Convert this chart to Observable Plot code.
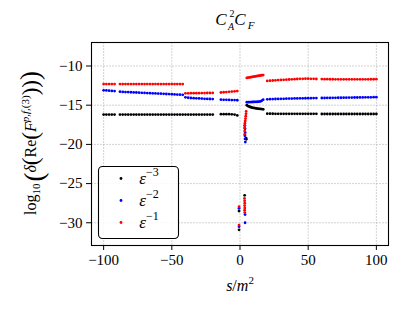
<!DOCTYPE html>
<html>
<head>
<meta charset="utf-8">
<script src="https://cdn.jsdelivr.net/npm/d3@7"></script>
<script src="https://cdn.jsdelivr.net/npm/@observablehq/plot@0.6"></script>
<style>
  html, body { margin: 0; padding: 0; background: white; }
  #chart svg { display: block; }
</style>
</head>
<body>
<div id="chart"></div>
<script>
// ---- data ----
const xTicks = [-100, -50, 0, 50, 100];
const yTicks = [-30, -25, -20, -15, -10];
const seriesNames = ["ε^-3", "ε^-2", "ε^-1"];
const seriesColors = ["black", "blue", "red"];

// left branch s/m^2 values
const sLeft = [-100,-98,-96,-94,-92,-88,-86,-84,-82,-80,-78,-76,-74,-72,-70,-68,-66,-64,-62,-60,-58,-56,-54,-52,-50,-48,-46,-44,-42,
               -40,-38,-36,-34,-32,-30,-28,-26,-24,-22,-20,
               -14,-12,-10,-8,-6,-4,-2];
const e3Left = [-16.2,-16.2,-16.2,-16.2,-16.2,-16.2,-16.2,-16.2,-16.2,-16.2,-16.2,-16.2,-16.2,-16.2,-16.2,-16.2,-16.2,-16.2,-16.2,-16.2,-16.2,-16.2,-16.2,-16.2,-16.2,-16.2,-16.2,-16.2,-16.2,
                -16.2,-16.2,-16.2,-16.2,-16.2,-16.2,-16.2,-16.2,-16.2,-16.2,-16.2,
                -16.15,-16.15,-16.15,-16.15,-16.16,-16.2,-16.3];
const e2Left = [-13.1,-13.12,-13.15,-13.18,-13.2,-13.28,-13.3,-13.32,-13.33,-13.35,-13.37,-13.38,-13.4,-13.42,-13.43,-13.45,-13.47,-13.48,-13.5,-13.52,-13.53,-13.55,-13.57,-13.58,-13.6,-13.62,-13.64,-13.66,-13.68,
                -14.0,-14.05,-14.08,-14.1,-14.12,-14.14,-14.16,-14.18,-14.2,-14.21,-14.22,
                -14.3,-14.31,-14.32,-14.33,-14.34,-14.35,-14.37];
const e1Left = [-12.3,-12.3,-12.3,-12.3,-12.3,-12.3,-12.3,-12.3,-12.3,-12.3,-12.3,-12.3,-12.3,-12.3,-12.3,-12.3,-12.3,-12.3,-12.3,-12.3,-12.3,-12.3,-12.3,-12.3,-12.3,-12.3,-12.3,-12.3,-12.3,
                -13.48,-13.48,-13.47,-13.47,-13.46,-13.46,-13.45,-13.45,-13.44,-13.44,-13.43,
                -13.38,-13.35,-13.32,-13.29,-13.26,-13.23,-13.2];

// small branch just right of zero
const sNear = [5,6,7,8,9,10,11,12,13,14,15,16,17];
const e3Near = [-15.0,-15.12,-15.2,-15.26,-15.31,-15.35,-15.38,-15.41,-15.44,-15.46,-15.48,-15.5,-15.52];
const e2Near = [-14.62,-14.61,-14.6,-14.6,-14.59,-14.58,-14.58,-14.57,-14.56,-14.55,-14.52,-14.42,-14.3];
const e1Near = [-11.52,-11.48,-11.45,-11.42,-11.39,-11.36,-11.33,-11.3,-11.27,-11.24,-11.21,-11.18,-11.15];

// right branch
const sRight = [20,22,24,26,28,30,32,34,36,38,40,42,44,46,48,50,52,54,56,
                60,62,64,66,68,70,72,74,76,78,80,82,84,86,88,90,92,94,96,98,100];
const e3Right = [-16.08,-16.08,-16.09,-16.1,-16.1,-16.1,-16.1,-16.1,-16.1,-16.1,-16.1,-16.1,-16.1,-16.1,-16.1,-16.1,-16.1,-16.1,-16.1,
                 -16.12,-16.12,-16.12,-16.12,-16.12,-16.12,-16.12,-16.12,-16.12,-16.12,-16.12,-16.12,-16.12,-16.12,-16.12,-16.12,-16.12,-16.12,-16.12,-16.12,-16.12];
const e2Right = [-14.25,-14.23,-14.22,-14.21,-14.2,-14.19,-14.18,-14.17,-14.16,-14.15,-14.14,-14.13,-14.12,-14.12,-14.11,-14.1,-14.1,-14.09,-14.09,
                 -14.08,-14.08,-14.07,-14.07,-14.06,-14.06,-14.05,-14.05,-14.04,-14.04,-14.03,-14.03,-14.02,-14.02,-14.01,-14.01,-14.0,-14.0,-13.99,-13.98,-13.97];
const e1Right = [-11.9,-11.88,-11.85,-11.83,-11.8,-11.78,-11.76,-11.74,-11.72,-11.7,-11.68,-11.66,-11.64,-11.63,-11.62,-11.62,-11.63,-11.64,-11.66,
                 -11.67,-11.68,-11.68,-11.69,-11.69,-11.7,-11.7,-11.7,-11.7,-11.7,-11.7,-11.7,-11.7,-11.7,-11.7,-11.7,-11.7,-11.7,-11.69,-11.69,-11.68];

// scattered points around s = 0
const sSpike3 = [4.5, 4.6, 3.4, -0.7, -0.7];
const vSpike3 = [-19.2, -19.35, -26.5, -28.5, -30.9];
const sSpike2 = [3.6, 3.7, 3.8, 3.6, 3.7, 3.9, -0.7, 3.7, 3.7, -0.7];
const vSpike2 = [-17.6, -18.0, -18.5, -18.9, -19.3, -19.7, -28.15, -28.95, -30.0, -30.5];
const sSpike1 = [4.5, 4.4, 4.2, 4.0, 3.8, 3.6, 3.4, 3.3, 3.4, 3.5, -0.7, 3.3, 3.4, 3.5, 3.4, 3.5, 3.4, 3.5, -0.7];
const vSpike1 = [-15.8, -16.1, -16.4, -16.7, -17.0, -17.3, -17.6, -17.9, -18.3, -18.7, -27.95, -26.9, -27.2, -27.5, -27.8, -28.1, -28.4, -28.7, -30.3];

// ---- build rows ----
function rows(sArr, vArr, k) { return sArr.map((s, i) => ({s, v: vArr[i], k})); }
const data = [
  ...rows(sLeft, e3Left, 0), ...rows(sNear, e3Near, 0), ...rows(sRight, e3Right, 0), ...rows(sSpike3, vSpike3, 0),
  ...rows(sLeft, e2Left, 1), ...rows(sNear, e2Near, 1), ...rows(sRight, e2Right, 1), ...rows(sSpike2, vSpike2, 1),
  ...rows(sLeft, e1Left, 2), ...rows(sNear, e1Near, 2), ...rows(sRight, e1Right, 2), ...rows(sSpike1, vSpike1, 2)
];

const serif = "'Liberation Serif', 'DejaVu Serif', serif";

const chart = Plot.plot({
  width: 410,
  height: 313,
  marginLeft: 91,
  marginRight: 22,
  marginTop: 42,
  marginBottom: 68,
  style: { fontFamily: serif, fontSize: "15px", color: "black", background: "white" },
  x: { domain: [-108.9, 108.9] },
  y: { domain: [-32.9, -7.0] },
  marks: [
    Plot.gridX(xTicks, { stroke: "#b0b0b0", strokeOpacity: 0.7, strokeWidth: 0.8, strokeDasharray: "2,1" }),
    Plot.gridY(yTicks, { stroke: "#b0b0b0", strokeOpacity: 0.7, strokeWidth: 0.8, strokeDasharray: "2,1" }),
    Plot.dot(data.filter(d => d.k === 0), { x: "s", y: "v", r: 1.4, fill: seriesColors[0], stroke: null }),
    Plot.dot(data.filter(d => d.k === 1), { x: "s", y: "v", r: 1.4, fill: seriesColors[1], stroke: null }),
    Plot.dot(data.filter(d => d.k === 2), { x: "s", y: "v", r: 1.4, fill: seriesColors[2], stroke: null }),
    Plot.axisX(xTicks, { tickSize: 5, tickPadding: 4, label: null, fontSize: 15, strokeWidth: 1 }),
    Plot.axisY(yTicks, { tickSize: 5, tickPadding: 4, label: null, fontSize: 15, strokeWidth: 1 }),
    Plot.frame({ stroke: "black", strokeWidth: 1.1 })
  ]
});

document.getElementById("chart").appendChild(chart);

const svg = d3.select(chart);

// title C_A^2 C_F (separate pieces so the stacked indices do not overlap)
const tg = svg.append("g").attr("font-family", serif).attr("font-style", "italic");
tg.append("text").attr("x", 221).attr("y", 25).attr("font-size", 17).text("C");
tg.append("text").attr("x", 232).attr("y", 17).attr("font-size", 10).attr("font-style", "normal").text("2");
tg.append("text").attr("x", 231).attr("y", 30).attr("font-size", 10).text("A");
tg.append("text").attr("x", 240).attr("y", 25).attr("font-size", 17).text("C");
tg.append("text").attr("x", 251).attr("y", 29).attr("font-size", 11).text("F");

// x label s/m^2
const xl = svg.append("text")
  .attr("x", 240).attr("y", 291)
  .attr("text-anchor", "middle")
  .attr("font-family", serif).attr("font-size", 16);
xl.append("tspan").attr("font-style", "italic").text("s");
xl.append("tspan").text("/");
xl.append("tspan").attr("font-style", "italic").text("m");
xl.append("tspan").attr("font-size", 11).attr("dy", -7).text("2");

// y label log10(δ(Re(F^{p,f,(3)})))
const yl = svg.append("text")
  .attr("transform", "translate(36,143) rotate(-90)")
  .attr("text-anchor", "middle")
  .attr("font-family", serif).attr("font-size", 16);
yl.append("tspan").text("log");
yl.append("tspan").attr("font-size", 11).attr("dy", 4).text("10");
yl.append("tspan").attr("font-size", 27).attr("dy", 3).attr("dx", 2).text("(");
yl.append("tspan").attr("font-size", 16).attr("dy", -7).attr("font-style", "italic").text("δ");
yl.append("tspan").attr("font-size", 23).attr("dy", 2).text("(");
yl.append("tspan").attr("font-size", 16).attr("dy", -2).text("Re");
yl.append("tspan").attr("font-size", 23).attr("dy", 2).text("(");
yl.append("tspan").attr("font-size", 16).attr("dy", -2).attr("font-style", "italic").text("F");
yl.append("tspan").attr("font-size", 11).attr("dy", -7).attr("font-style", "italic").text("p,f,");
yl.append("tspan").attr("font-size", 11).text("(3)");
yl.append("tspan").attr("font-size", 23).attr("dy", 9).text(")");
yl.append("tspan").attr("font-size", 23).text(")");
yl.append("tspan").attr("font-size", 27).attr("dy", 1).text(")");

// legend
const lg = svg.append("g");
lg.append("rect")
  .attr("x", 98.5).attr("y", 166.5).attr("width", 80).attr("height", 72)
  .attr("rx", 4).attr("fill", "white").attr("fill-opacity", 0.85)
  .attr("stroke", "black").attr("stroke-width", 1.1);
const rowsY = [178.5, 200.5, 222.5];
const sup = ["−3", "−2", "−1"];
rowsY.forEach((yy, i) => {
  lg.append("circle").attr("cx", 121).attr("cy", yy).attr("r", 1.4).attr("fill", seriesColors[i]);
  const t = lg.append("text").attr("x", 149).attr("y", yy + 5)
    .attr("font-family", serif).attr("font-size", 17);
  t.append("tspan").attr("font-style", "italic").text("ε");
  t.append("tspan").attr("font-size", 12).attr("dy", -8).text(sup[i]);
});
</script>
</body>
</html>
